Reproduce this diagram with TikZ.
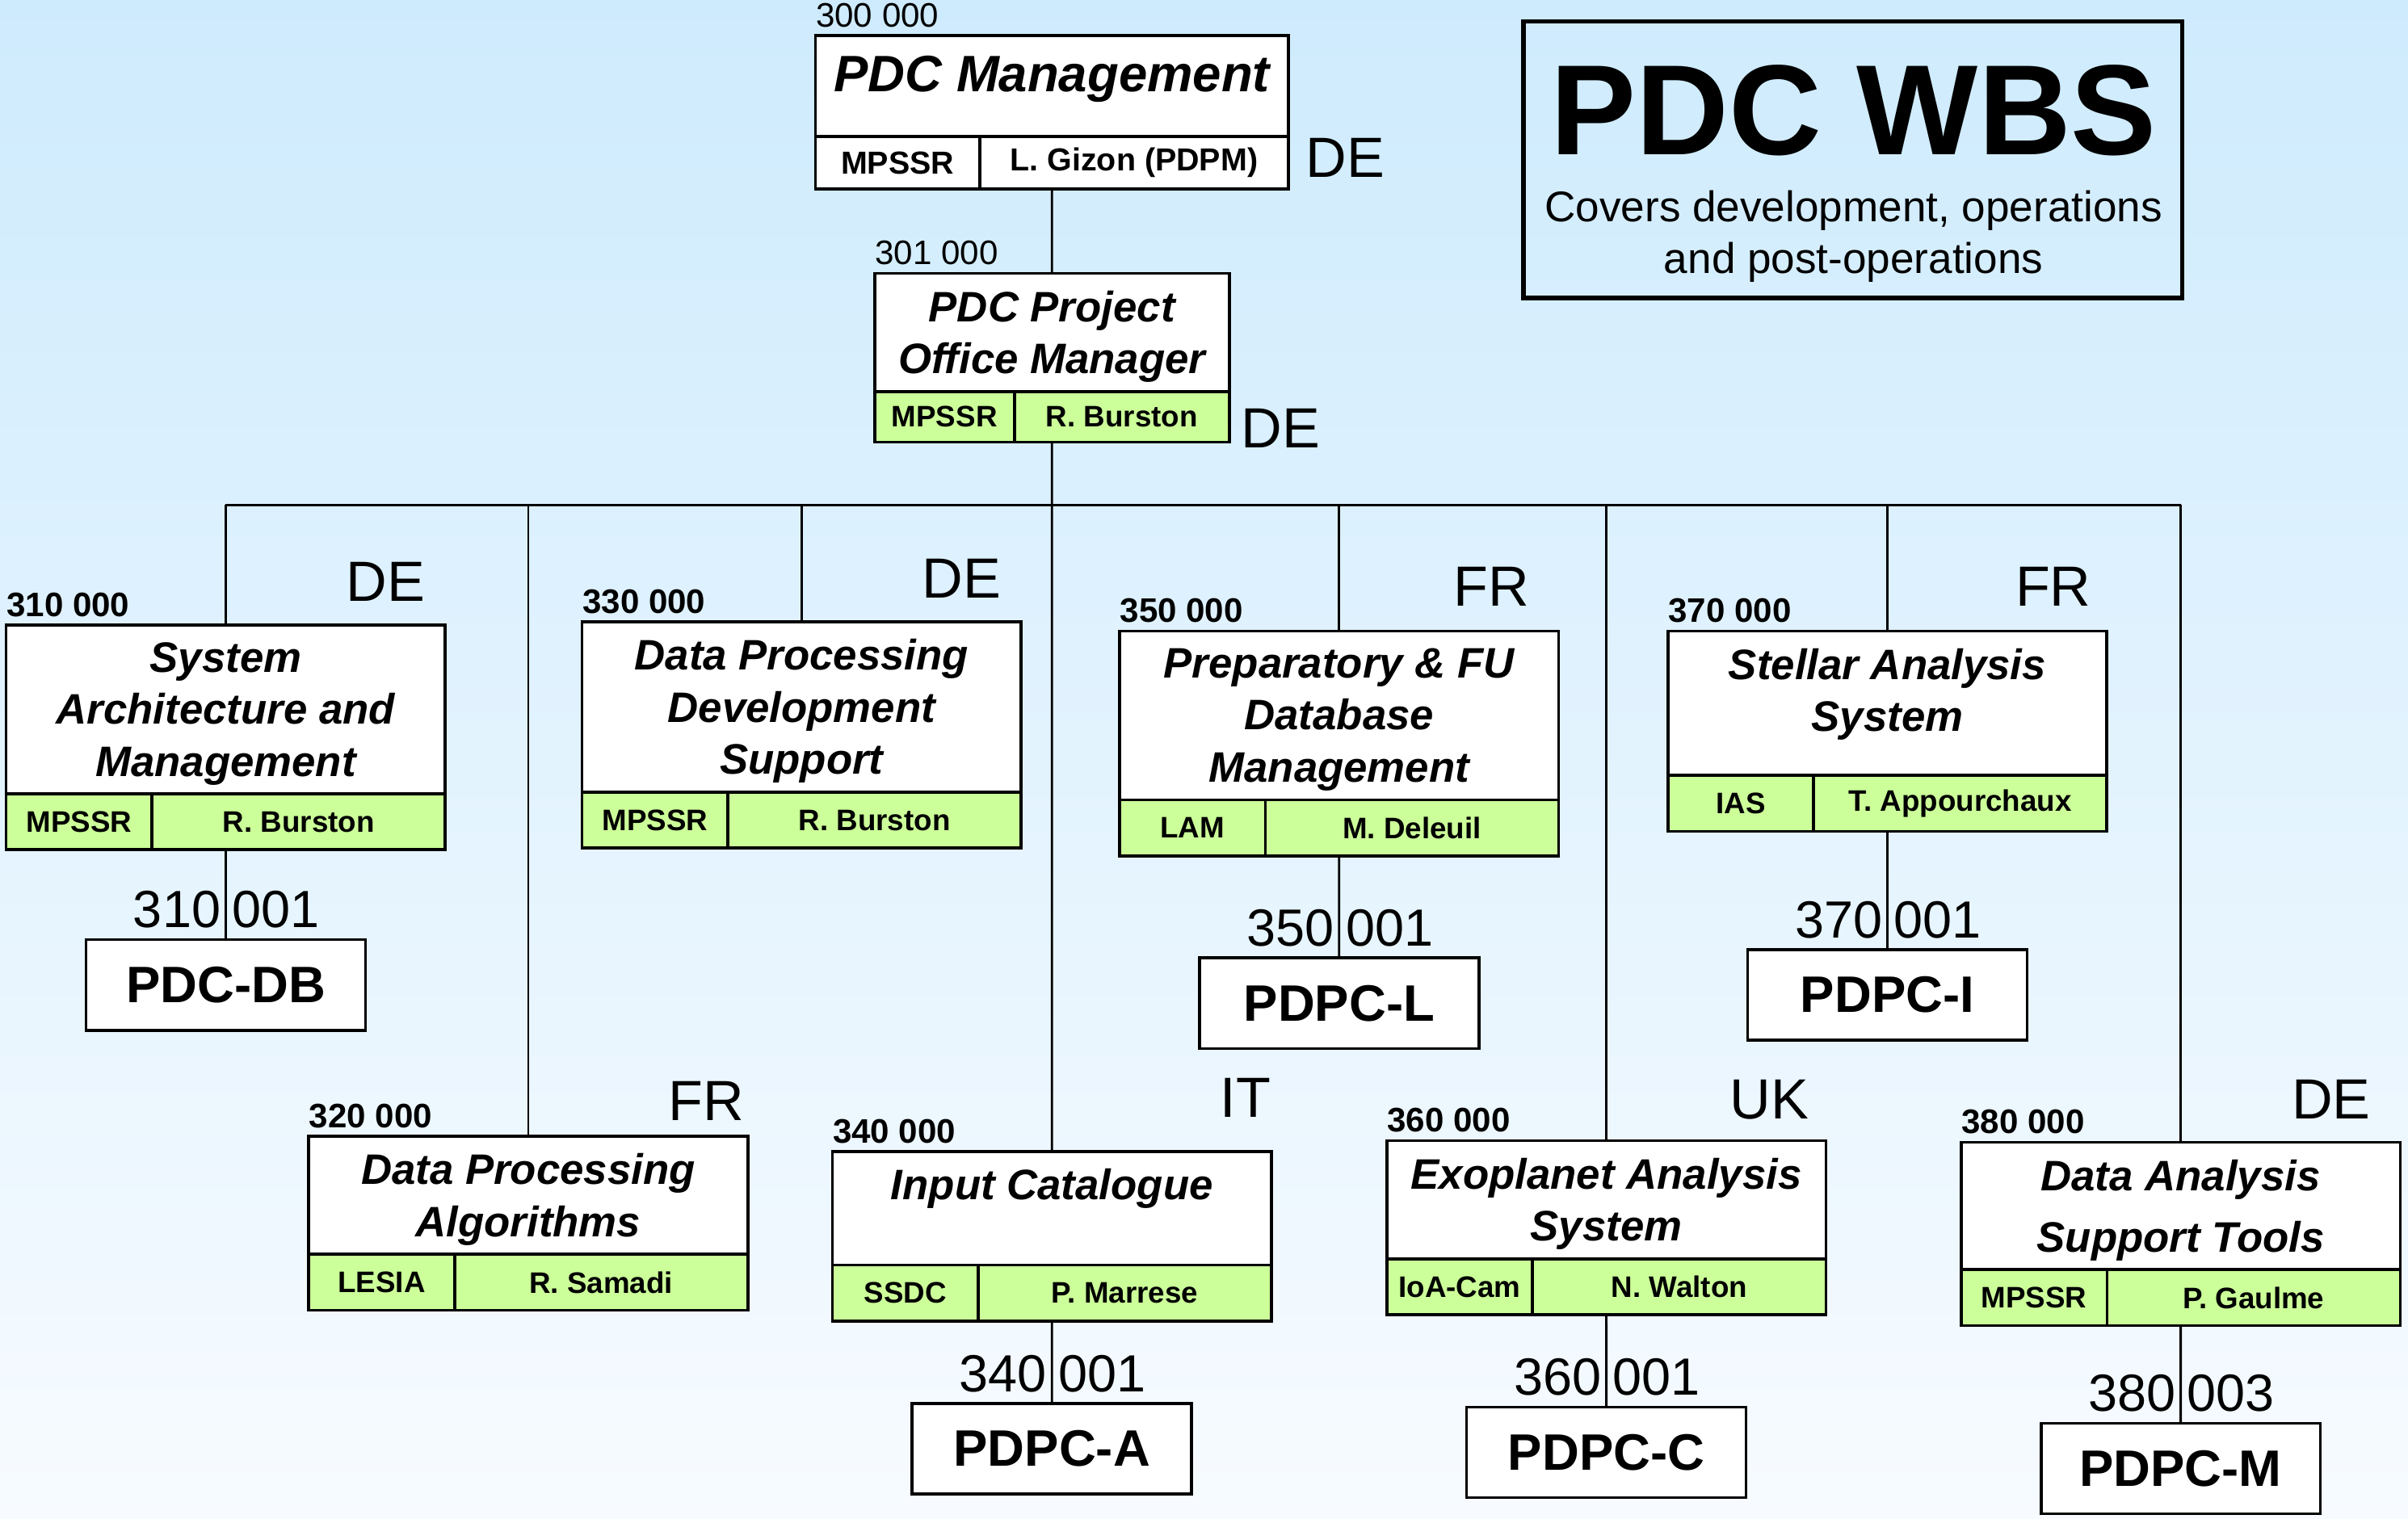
\documentclass[tikz,border=0pt]{standalone}
\usepackage{fontspec}
\setmainfont{Liberation Sans}
\usetikzlibrary{positioning}
\definecolor{cellgreen}{RGB}{204,255,153}
\definecolor{bgtop}{RGB}{206,235,253}
\definecolor{bgbot}{RGB}{247,251,255}
\tikzset{
ttl/.style={draw, line width=1.1pt, fill=white, minimum width=5.72cm, inner sep=0pt, outer sep=0pt, anchor=north west}, % upper part of a box
ttltext/.style={align=center, inner sep=0pt, font=\fontsize{15.8}{19.3}\selectfont\bfseries\itshape},
org/.style={draw, line width=1.1pt, fill=cellgreen, minimum width=1.9cm, minimum height=0.73cm, inner sep=0pt, outer sep=0pt, anchor=north west, font=\fontsize{11}{13}\selectfont\bfseries},
who/.style={org, minimum width=3.82cm},
wbsno/.style={inner sep=0pt, font=\fontsize{12.6}{14}\selectfont\bfseries},
ctry/.style={inner sep=0pt, font=\fontsize{21}{24}\selectfont},
leaf/.style={draw, line width=1.1pt, fill=white, minimum width=3.64cm, minimum height=1.18cm, inner sep=0pt, outer sep=0pt, font=\fontsize{19}{22}\selectfont\bfseries},
subno/.style={inner sep=0pt, font=\fontsize{19.4}{22}\selectfont},
conn/.style={line width=0.85pt},
}

\begin{document}
\begin{tikzpicture}[x=0.02cm, y=-0.02cm]
        \fill[top color=bgtop, bottom color=bgbot] (0,0) rectangle (1568,989);
        \useasboundingbox (0,0) rectangle (1568,989);
        % title
        \node[draw, line width=1.7pt, minimum width=8.58cm, minimum height=3.6cm] (wbs) at (1206.5,104) {};
        \node[inner sep=0pt, font=\fontsize{47.6}{52}\selectfont\bfseries] (wbsttl) at (1207,72) {PDC WBS};
        \node[align=center, inner sep=0pt, font=\fontsize{15.9}{19.3}\selectfont] (wbssub) at (1207,154) {Covers development, operations\\and post-operations};
        % 300 000
        \node[ttl, minimum width=6.16cm, minimum height=1.32cm] (tA) at (531,23) {};
        \node[ttltext, font=\fontsize{19}{22}\selectfont\bfseries\itshape, below=0.26cm of tA.north] (xA) {PDC Management};
        \node[org, fill=white, minimum width=2.14cm, minimum height=0.68cm, font=\fontsize{11.8}{14}\selectfont\bfseries] (oA) at (tA.south west) {MPSSR};
        \node[who, fill=white, minimum width=4.02cm, minimum height=0.68cm, font=\fontsize{11.8}{14}\selectfont\bfseries] (pA) at (oA.north east) {L. Gizon (PDPM)};
        \node[wbsno, font=\fontsize{12.6}{14}\selectfont, above right=0.1cm and 0cm of tA.north west] (cA) {300 000};
        \node[ctry] (kA) at (876,103) {DE};
        % 301 000
        \node[ttl, minimum width=4.62cm, minimum height=1.54cm] (tB) at (569.5,178) {};
        \node[ttltext, below=0.22cm of tB.north] (xB) {PDC Project\\Office Manager};
        \node[org, minimum width=1.82cm, minimum height=0.66cm] (oB) at (tB.south west) {MPSSR};
        \node[who, minimum width=2.8cm, minimum height=0.66cm] (pB) at (oB.north east) {R. Burston};
        \node[wbsno, font=\fontsize{12.6}{14}\selectfont, above right=0.1cm and 0cm of tB.north west] (cB) {301 000};
        \node[ctry] (kB) at (834,279) {DE};
        % 310 000
        \node[ttl, minimum height=2.2cm] (t310) at (4,407) {};
        \node[ttltext, below=0.22cm of t310.north] (x310) {System\\Architecture and\\Management};
        \node[org] (o310) at (t310.south west) {MPSSR};
        \node[who] (p310) at (o310.north east) {R. Burston};
        \node[wbsno, above right=0.1cm and 0cm of t310.north west] (c310) {310 000};
        \node[ctry] (k310) at (251,379) {DE};
        % 320 000
        \node[ttl, minimum height=1.54cm] (t320) at (201,740) {};
        \node[ttltext, below=0.22cm of t320.north] (x320) {Data Processing\\Algorithms};
        \node[org] (o320) at (t320.south west) {LESIA};
        \node[who] (p320) at (o320.north east) {R. Samadi};
        \node[wbsno, above right=0.1cm and 0cm of t320.north west] (c320) {320 000};
        \node[ctry] (k320) at (460,717) {FR};
        % 330 000
        \node[ttl, minimum height=2.22cm] (t330) at (379,405) {};
        \node[ttltext, below=0.22cm of t330.north] (x330) {Data Processing\\Development\\Support};
        \node[org] (o330) at (t330.south west) {MPSSR};
        \node[who] (p330) at (o330.north east) {R. Burston};
        \node[wbsno, above right=0.1cm and 0cm of t330.north west] (c330) {330 000};
        \node[ctry] (k330) at (626,377) {DE};
        % 340 000
        \node[ttl, minimum height=1.48cm] (t340) at (542,750) {};
        \node[ttltext, below=0.22cm of t340.north] (x340) {Input Catalogue};
        \node[org] (o340) at (t340.south west) {SSDC};
        \node[who] (p340) at (o340.north east) {P. Marrese};
        \node[wbsno, above right=0.1cm and 0cm of t340.north west] (c340) {340 000};
        \node[ctry] (k340) at (811,715) {IT};
        % 350 000
        \node[ttl, minimum height=2.2cm] (t350) at (729,411) {};
        \node[ttltext, below=0.22cm of t350.north] (x350) {Preparatory \& FU\\Database\\Management};
        \node[org] (o350) at (t350.south west) {LAM};
        \node[who] (p350) at (o350.north east) {M. Deleuil};
        \node[wbsno, above right=0.1cm and 0cm of t350.north west] (c350) {350 000};
        \node[ctry] (k350) at (971,382) {FR};
        % 360 000
        \node[ttl, minimum height=1.54cm] (t360) at (903,743) {};
        \node[ttltext, below=0.22cm of t360.north] (x360) {Exoplanet Analysis\\System};
        \node[org] (o360) at (t360.south west) {IoA-Cam};
        \node[who] (p360) at (o360.north east) {N. Walton};
        \node[wbsno, above right=0.1cm and 0cm of t360.north west] (c360) {360 000};
        \node[ctry] (k360) at (1152,716) {UK};
        % 370 000
        \node[ttl, minimum height=1.88cm] (t370) at (1086,411) {};
        \node[ttltext, below=0.22cm of t370.north] (x370) {Stellar Analysis\\System};
        \node[org] (o370) at (t370.south west) {IAS};
        \node[who] (p370) at (o370.north east) {T. Appourchaux};
        \node[wbsno, above right=0.1cm and 0cm of t370.north west] (c370) {370 000};
        \node[ctry] (k370) at (1337,382) {FR};
        % 380 000
        \node[ttl, minimum height=1.66cm] (t380) at (1277,744) {};
        \node[ttltext, below=0.22cm of t380.north] (x380) {Data Analysis\\[3.4pt]Support Tools};
        \node[org] (o380) at (t380.south west) {MPSSR};
        \node[who] (p380) at (o380.north east) {P. Gaulme};
        \node[wbsno, above right=0.1cm and 0cm of t380.north west] (c380) {380 000};
        \node[ctry] (k380) at (1518,716) {DE};
        % leaves
        \node[leaf] (db) at (147,641.5) {PDC-DB};
        \node[leaf] (pa) at (685,943.5) {PDPC-A};
        \node[leaf] (pl) at (872,653.5) {PDPC-L};
        \node[leaf] (pc) at (1046,946) {PDPC-C};
        \node[leaf] (pi) at (1229,648) {PDPC-I};
        \node[leaf] (pm) at (1420,956.5) {PDPC-M};
        \foreach \m/\a/\b in {db/310/001, pa/340/001, pl/350/001, pc/360/001, pi/370/001, pm/380/003} {
            \node[subno, above left=0.14cm and 0.06cm of \m.north] (\m-l) {\a};
            \node[subno, above right=0.14cm and 0.08cm of \m.north] (\m-r) {\b};
        }
        % connectors
        \coordinate (bus) at (685,329);
        \draw[conn] (pA.south -| tA.north) -- (tB.north);
        \draw[conn] (pB.south -| tB.north) -- (t340.north);
        \draw[conn] (t310.north |- bus) -- (t380.north |- bus);
        \foreach \n in {310,320,330,350,360,370,380}
            \draw[conn] (t\n.north |- bus) -- (t\n.north);
        \foreach \n/\m in {310/db, 340/pa, 350/pl, 360/pc, 370/pi, 380/pm}
            \draw[conn] (p\n.south -| t\n.north) -- (\m.north);
    \end{tikzpicture}
\end{document}
